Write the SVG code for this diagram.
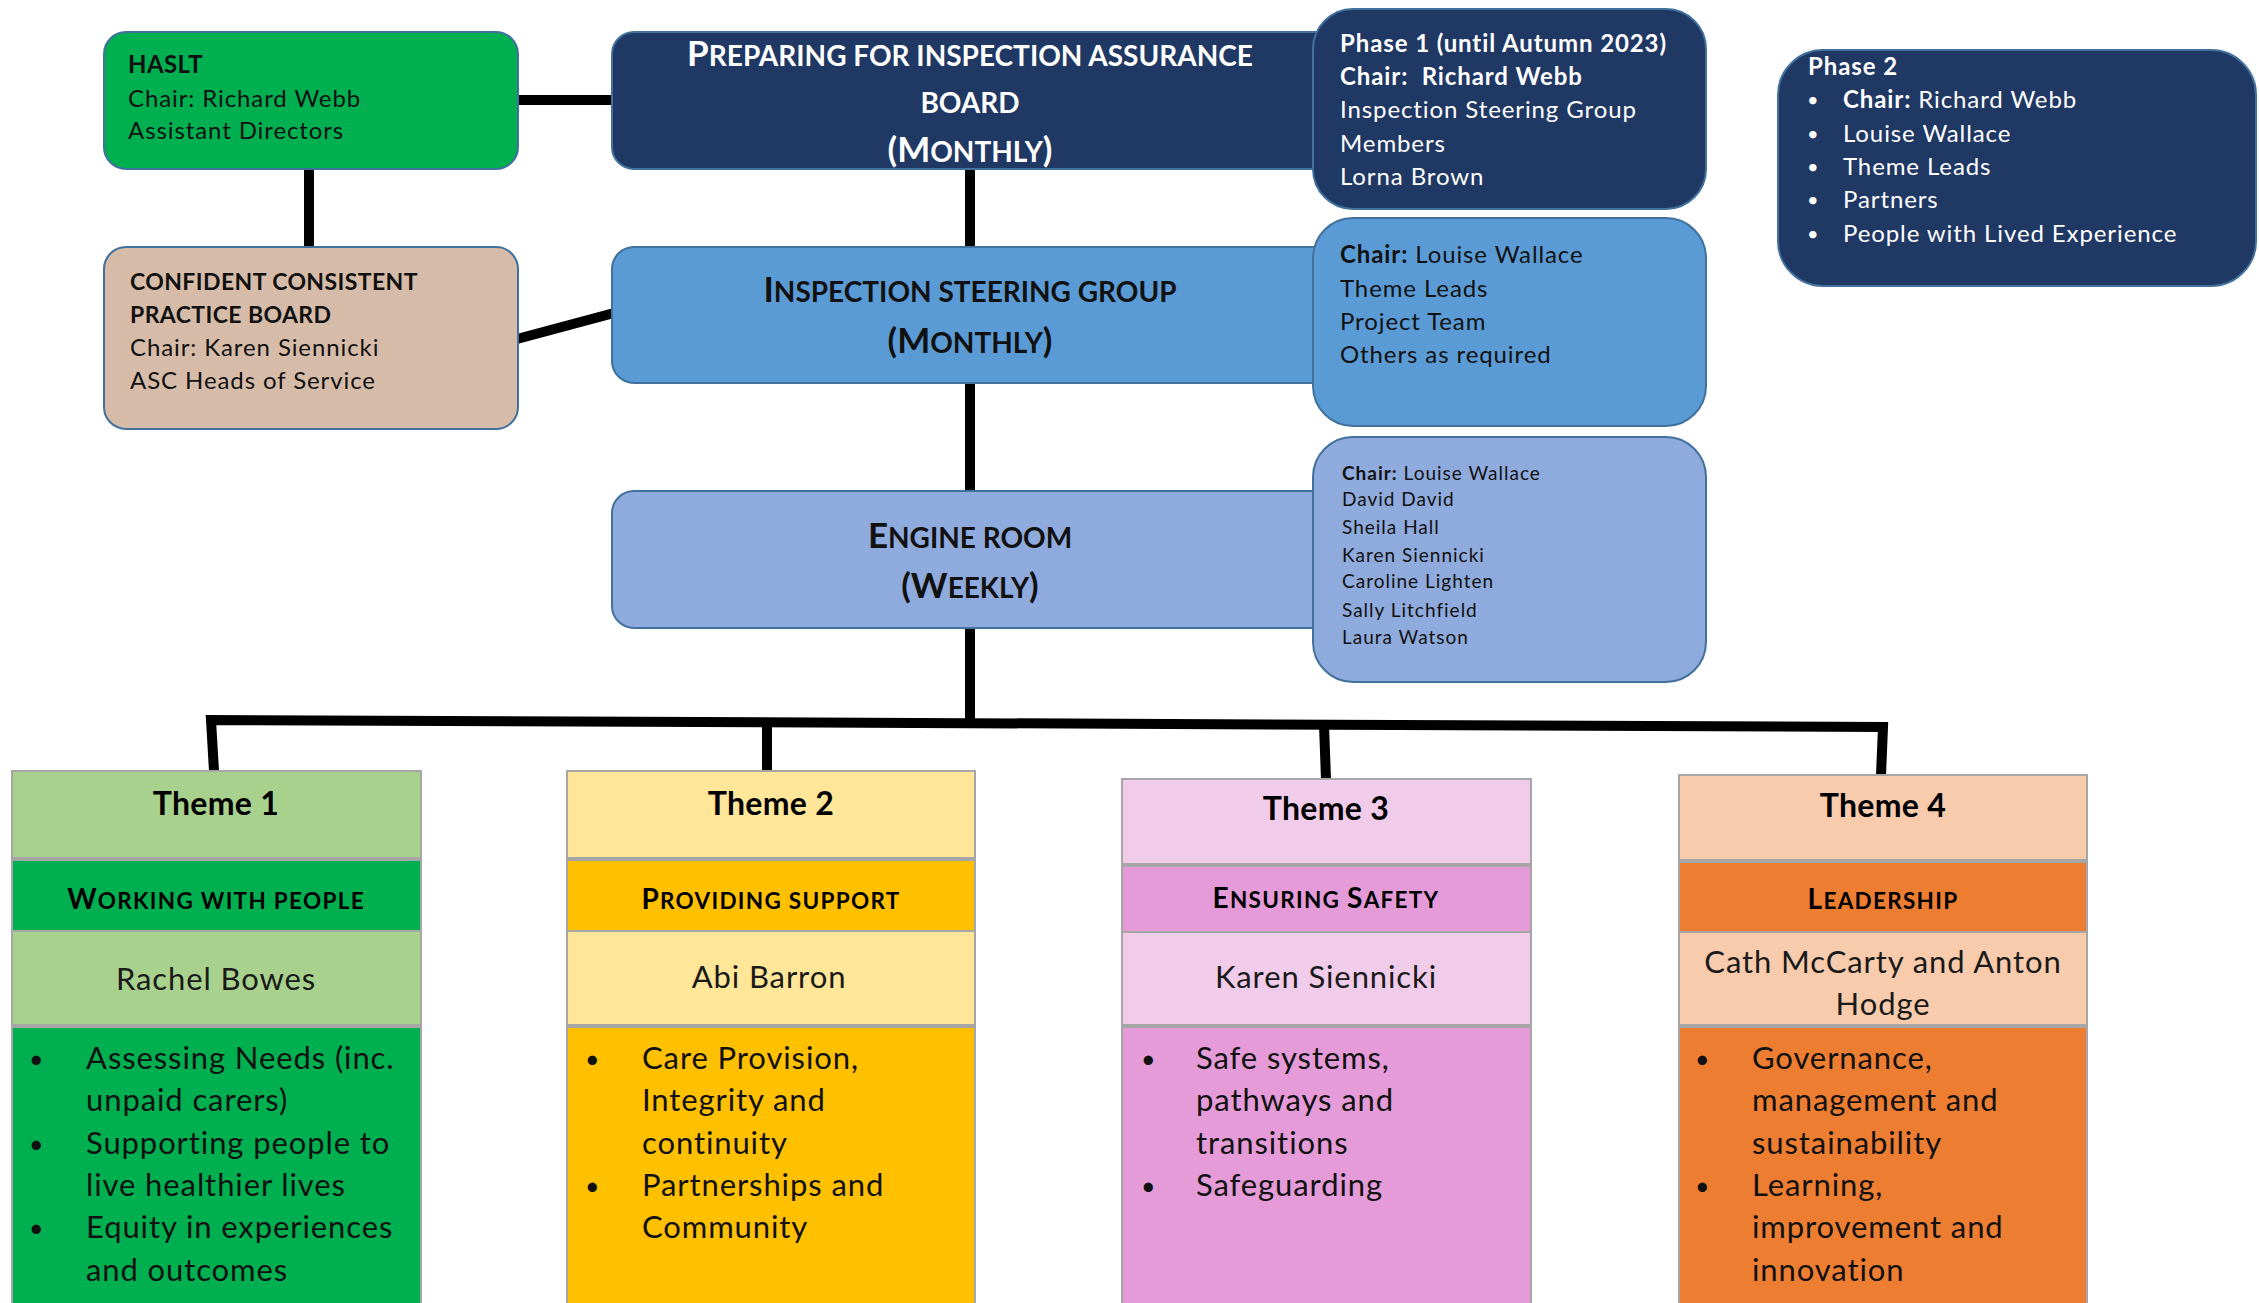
<svg xmlns="http://www.w3.org/2000/svg" width="2259" height="1303" viewBox="0 0 2259 1303">
<style>
text{font-family:Lato,"Liberation Sans",sans-serif;}
.box{stroke:#41719C;stroke-width:2;}
.conn{stroke:#000;stroke-width:10;fill:none;stroke-linejoin:miter;}
.t23{font-size:24px;letter-spacing:0.9px;}
.caps{font-size:23px;letter-spacing:0.4px;font-weight:bold;}
.b{font-weight:bold;}
.w{fill:#fff;}
.k{fill:#111;}
.title{font-weight:bold;text-anchor:middle;}
.big{font-size:35px;}
.sm{font-size:28px;}
.col{stroke:#A6A6A6;stroke-width:2;}
.sepT{stroke:#A6A6A6;stroke-width:4;}
.sepN{stroke:#A6A6A6;stroke-width:2;}
.th{font-size:32px;letter-spacing:0.3px;font-weight:bold;text-anchor:middle;fill:#000;}
.bandL{font-size:28px;font-weight:bold;}
.bandS{font-size:22.5px;font-weight:bold;}
.band{text-anchor:middle;fill:#000;letter-spacing:1.3px;}
.nm{font-size:31px;letter-spacing:0.9px;text-anchor:middle;fill:#1a1a1a;}
.bl{font-size:31px;letter-spacing:0.9px;fill:#111;}
.dot{font-size:25px;letter-spacing:0;}
.pdot{font-size:20px;letter-spacing:0;}
.mem{font-size:19px;letter-spacing:1px;fill:#111;}
</style>

<g id="connectors">
<line class="conn" x1="518" y1="100" x2="614" y2="100"/>
<line class="conn" x1="309" y1="169" x2="309" y2="248"/>
<line class="conn" x1="517" y1="339" x2="614" y2="313"/>
<line class="conn" x1="970" y1="169" x2="970" y2="248"/>
<line class="conn" x1="970" y1="383" x2="970" y2="492"/>
<line class="conn" x1="970" y1="628" x2="970" y2="724"/>
<polyline class="conn" points="214,771 211,720 1883,727 1881,775"/>
<line class="conn" x1="767" y1="722" x2="767" y2="771"/>
<line class="conn" x1="1324" y1="725" x2="1326" y2="779"/>
</g>

<g id="haslt">
<rect class="box" x="104" y="32" width="414" height="137" rx="22" fill="#00B050"/>
<text class="caps k" x="128" y="73" style="font-size:24px">HASLT</text>
<text class="t23 k" x="128" y="107">Chair: Richard Webb</text>
<text class="t23 k" x="128" y="139">Assistant Directors</text>
</g>

<g id="confident">
<rect class="box" x="104" y="247" width="414" height="182" rx="22" fill="#D6BCA8"/>
<text class="caps k" x="130" y="290">CONFIDENT CONSISTENT</text>
<text class="caps k" x="130" y="323">PRACTICE BOARD</text>
<text class="t23 k" x="130" y="356">Chair: Karen Siennicki</text>
<text class="t23 k" x="130" y="389">ASC Heads of Service</text>
</g>

<g id="preparing">
<rect class="box" x="612" y="32" width="738" height="137" rx="22" fill="#203864"/>
<text class="title w" x="970" y="66"><tspan class="big">P</tspan><tspan class="sm">REPARING FOR INSPECTION ASSURANCE</tspan></text>
<text class="title w sm" x="970" y="113">BOARD</text>
<text class="title w" x="970" y="162"><tspan class="big">(M</tspan><tspan class="sm">ONTHLY</tspan><tspan class="big">)</tspan></text>
</g>

<g id="phase1">
<rect class="box" x="1313" y="9" width="393" height="200" rx="40" fill="#203864"/>
<text class="t23 w b" x="1340" y="52">Phase 1 (until Autumn 2023)</text>
<text class="t23 w b" x="1340" y="85" xml:space="preserve">Chair:  Richard Webb</text>
<text class="t23 w" x="1340" y="118">Inspection Steering Group</text>
<text class="t23 w" x="1340" y="152">Members</text>
<text class="t23 w" x="1340" y="185">Lorna Brown</text>
</g>

<g id="phase2">
<rect class="box" x="1778" y="50" width="478" height="236" rx="45" fill="#203864"/>
<text class="t23 w b" x="1808" y="75">Phase 2</text>
<g class="t23 w">
<text class="pdot" x="1807" y="107">•</text><text x="1843" y="108"><tspan class="b">Chair:</tspan> Richard Webb</text>
<text class="pdot" x="1807" y="141">•</text><text x="1843" y="142">Louise Wallace</text>
<text class="pdot" x="1807" y="174">•</text><text x="1843" y="175">Theme Leads</text>
<text class="pdot" x="1807" y="207">•</text><text x="1843" y="208">Partners</text>
<text class="pdot" x="1807" y="241">•</text><text x="1843" y="242">People with Lived Experience</text>
</g>
</g>

<g id="steering">
<rect class="box" x="612" y="247" width="738" height="136" rx="22" fill="#5B9BD5"/>
<text class="title k" x="970" y="302"><tspan class="big">I</tspan><tspan class="sm">NSPECTION STEERING GROUP</tspan></text>
<text class="title k" x="970" y="353"><tspan class="big">(M</tspan><tspan class="sm">ONTHLY</tspan><tspan class="big">)</tspan></text>
</g>

<g id="steering-members">
<rect class="box" x="1313" y="218" width="393" height="208" rx="40" fill="#5B9BD5"/>
<text class="t23 k" x="1340" y="263"><tspan class="b">Chair:</tspan> Louise Wallace</text>
<text class="t23 k" x="1340" y="297">Theme Leads</text>
<text class="t23 k" x="1340" y="330">Project Team</text>
<text class="t23 k" x="1340" y="363">Others as required</text>
</g>

<g id="engine">
<rect class="box" x="612" y="491" width="738" height="137" rx="22" fill="#8FAADC"/>
<text class="title k" x="970" y="548"><tspan class="big">E</tspan><tspan class="sm">NGINE ROOM</tspan></text>
<text class="title k" x="970" y="598"><tspan class="big">(W</tspan><tspan class="sm">EEKLY</tspan><tspan class="big">)</tspan></text>
</g>

<g id="engine-members">
<rect class="box" x="1313" y="437" width="393" height="245" rx="40" fill="#8FAADC"/>
<g class="mem">
<text x="1342" y="480"><tspan class="b">Chair:</tspan> Louise Wallace</text>
<text x="1342" y="506">David David</text>
<text x="1342" y="534">Sheila Hall</text>
<text x="1342" y="562">Karen Siennicki</text>
<text x="1342" y="588">Caroline Lighten</text>
<text x="1342" y="617">Sally Litchfield</text>
<text x="1342" y="644">Laura Watson</text>
</g>
</g>

<g id="theme1">
<rect x="12" y="771" width="409" height="88" fill="#A9D18E"/>
<rect x="12" y="859" width="409" height="72" fill="#00B050"/>
<rect x="12" y="931" width="409" height="95" fill="#A9D18E"/>
<rect x="12" y="1026" width="409" height="290" fill="#00B050"/>
<rect class="col" x="12" y="771" width="409" height="545" fill="none"/>
<line class="sepT" x1="12" y1="859" x2="421" y2="859"/>
<line class="sepN" x1="12" y1="931" x2="421" y2="931"/>
<line class="sepT" x1="12" y1="1026" x2="421" y2="1026"/>
<text class="th" x="216" y="815">Theme 1</text>
<text class="band" x="216" y="909"><tspan class="bandL">W</tspan><tspan class="bandS">ORKING WITH PEOPLE</tspan></text>
<text class="nm" x="216" y="990">Rachel Bowes</text>
<g class="bl">
<text class="dot" x="29" y="1068">•</text><text x="86" y="1069">Assessing Needs (inc.</text>
<text x="86" y="1111">unpaid carers)</text>
<text class="dot" x="29" y="1153">•</text><text x="86" y="1154">Supporting people to</text>
<text x="86" y="1196">live healthier lives</text>
<text class="dot" x="29" y="1237">•</text><text x="86" y="1238">Equity in experiences</text>
<text x="86" y="1281">and outcomes</text>
</g>
</g>

<g id="theme2">
<rect x="567" y="771" width="408" height="88" fill="#FFE699"/>
<rect x="567" y="859" width="408" height="72" fill="#FFC000"/>
<rect x="567" y="931" width="408" height="95" fill="#FFE699"/>
<rect x="567" y="1026" width="408" height="290" fill="#FFC000"/>
<rect class="col" x="567" y="771" width="408" height="545" fill="none"/>
<line class="sepT" x1="567" y1="859" x2="975" y2="859"/>
<line class="sepN" x1="567" y1="931" x2="975" y2="931"/>
<line class="sepT" x1="567" y1="1026" x2="975" y2="1026"/>
<text class="th" x="771" y="815">Theme 2</text>
<text class="band" x="771" y="909"><tspan class="bandL">P</tspan><tspan class="bandS">ROVIDING SUPPORT</tspan></text>
<text class="nm" x="769" y="988">Abi Barron</text>
<g class="bl">
<text class="dot" x="585" y="1068">•</text><text x="642" y="1069">Care Provision,</text>
<text x="642" y="1111">Integrity and</text>
<text x="642" y="1154">continuity</text>
<text class="dot" x="585" y="1195">•</text><text x="642" y="1196">Partnerships and</text>
<text x="642" y="1238">Community</text>
</g>
</g>

<g id="theme3">
<rect x="1122" y="779" width="409" height="86" fill="#F0CCEA"/>
<rect x="1122" y="865" width="409" height="67" fill="#E49BD8"/>
<rect x="1122" y="932" width="409" height="94" fill="#F0CCEA"/>
<rect x="1122" y="1026" width="409" height="290" fill="#E49BD8"/>
<rect class="col" x="1122" y="779" width="409" height="537" fill="none"/>
<line class="sepT" x1="1122" y1="865" x2="1531" y2="865"/>
<line class="sepN" x1="1122" y1="932" x2="1531" y2="932"/>
<line class="sepT" x1="1122" y1="1026" x2="1531" y2="1026"/>
<text class="th" x="1326" y="820">Theme 3</text>
<text class="band" x="1326" y="908"><tspan class="bandL">E</tspan><tspan class="bandS">NSURING </tspan><tspan class="bandL">S</tspan><tspan class="bandS">AFETY</tspan></text>
<text class="nm" x="1326" y="988">Karen Siennicki</text>
<g class="bl">
<text class="dot" x="1141" y="1068">•</text><text x="1196" y="1069">Safe systems,</text>
<text x="1196" y="1111">pathways and</text>
<text x="1196" y="1154">transitions</text>
<text class="dot" x="1141" y="1195">•</text><text x="1196" y="1196">Safeguarding</text>
</g>
</g>

<g id="theme4">
<rect x="1679" y="775" width="408" height="86" fill="#F8CBAD"/>
<rect x="1679" y="861" width="408" height="71" fill="#ED7D31"/>
<rect x="1679" y="932" width="408" height="94" fill="#F8CBAD"/>
<rect x="1679" y="1026" width="408" height="290" fill="#ED7D31"/>
<rect class="col" x="1679" y="775" width="408" height="541" fill="none"/>
<line class="sepT" x1="1679" y1="861" x2="2087" y2="861"/>
<line class="sepN" x1="1679" y1="932" x2="2087" y2="932"/>
<line class="sepT" x1="1679" y1="1026" x2="2087" y2="1026"/>
<text class="th" x="1883" y="817">Theme 4</text>
<text class="band" x="1883" y="909"><tspan class="bandL">L</tspan><tspan class="bandS">EADERSHIP</tspan></text>
<text class="nm" x="1883" y="973">Cath McCarty and Anton</text>
<text class="nm" x="1883" y="1015">Hodge</text>
<g class="bl">
<text class="dot" x="1695" y="1068">•</text><text x="1752" y="1069">Governance,</text>
<text x="1752" y="1111">management and</text>
<text x="1752" y="1154">sustainability</text>
<text class="dot" x="1695" y="1195">•</text><text x="1752" y="1196">Learning,</text>
<text x="1752" y="1238">improvement and</text>
<text x="1752" y="1281">innovation</text>
</g>
</g>
</svg>
